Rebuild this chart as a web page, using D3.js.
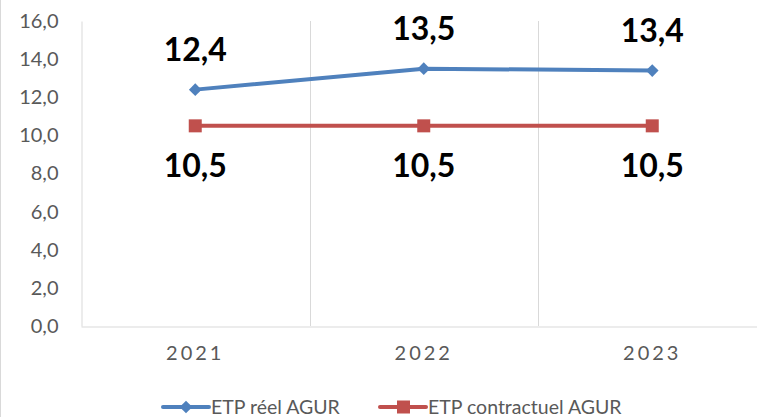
<!doctype html>
<html>
<head>
  <meta charset="utf-8">
  <title>ETP AGUR</title>
  <style>
  body { margin: 0; background: #fff; }
  #vis { width: 757px; height: 417px; }
  </style>
</head>
<body>
  <div id="vis"></div>
  <script src="https://d3js.org/d3.v7.min.js"></script>
  <script>
  var years = ['2021', '2022', '2023'];
  var reel = [12.4, 13.5, 13.4];
  var contractuel = [10.5, 10.5, 10.5];
  var yTicks = [0, 2, 4, 6, 8, 10, 12, 14, 16];
  var seriesNames = ['ETP réel AGUR', 'ETP contractuel AGUR'];

  var width = 757, height = 417;
  var plotLeft = 81, plotTop = 21, plotBottom = 326;
  var band = 228.5;

  var svg = d3.select('#vis').append('svg')
    .attr('width', width).attr('height', height)
    .style('font-family', 'Lato, "Open Sans", sans-serif');

  var x = d3.scaleBand().domain(years).range([plotLeft, plotLeft + band * years.length]);
  var y = d3.scaleLinear().domain([0, 16]).range([plotBottom, plotTop]);
  var fmt = function(v){ return d3.format('.1f')(v).replace('.', ','); };

  // chart border on the left edge
  svg.append('line').attr('x1', 0.5).attr('x2', 0.5).attr('y1', 0).attr('y2', height)
    .attr('stroke', '#d9d9d9');

  // vertical gridlines between categories
  svg.selectAll('.grid').data(years.slice(1)).enter().append('line')
    .attr('x1', function(d){ return Math.round(x(d)) + 0.5; })
    .attr('x2', function(d){ return Math.round(x(d)) + 0.5; })
    .attr('y1', plotTop).attr('y2', plotBottom)
    .attr('stroke', '#d9d9d9').attr('stroke-width', 1);

  // y axis
  var yAxis = svg.append('g').attr('transform', 'translate(' + (plotLeft + 0.5) + ',0)')
    .call(d3.axisLeft(y).tickValues(yTicks).tickFormat(fmt).tickSize(0).tickPadding(23));
  yAxis.select('.domain').attr('stroke', '#d9d9d9');
  yAxis.selectAll('text').attr('fill', '#595959').style('font-size', '20px')
    .style('font-family', 'Lato, "Open Sans", sans-serif');

  // x axis
  var xAxis = svg.append('g').attr('transform', 'translate(0,' + (plotBottom + 0.5) + ')')
    .call(d3.axisBottom(x).tickSize(0).tickPadding(19));
  xAxis.select('.domain').attr('stroke', '#d9d9d9');
  xAxis.selectAll('text').attr('fill', '#595959').style('font-size', '20px')
    .style('letter-spacing', '3px')
    .style('font-family', 'Lato, "Open Sans", sans-serif');

  var cx = function(i){ return x(years[i]) + x.bandwidth() / 2; };

  var line = d3.line().x(function(d, i){ return cx(i); }).y(function(d){ return y(d); });

  var blue = '#4f81bd', red = '#c0504d';

  svg.append('path').datum(reel).attr('d', line)
    .attr('fill', 'none').attr('stroke', blue).attr('stroke-width', 4).attr('stroke-linejoin', 'round');
  svg.append('path').datum(contractuel).attr('d', line)
    .attr('fill', 'none').attr('stroke', red).attr('stroke-width', 4);

  var diamond = d3.symbol().type(d3.symbolSquare).size(80);
  svg.selectAll('.m1').data(reel).enter().append('path')
    .attr('d', diamond())
    .attr('transform', function(d, i){ return 'translate(' + cx(i) + ',' + y(d) + ') rotate(45)'; })
    .attr('fill', blue);
  svg.selectAll('.m2').data(contractuel).enter().append('rect')
    .attr('x', function(d, i){ return cx(i) - 6.5; })
    .attr('y', function(d){ return y(d) - 6.5; })
    .attr('width', 13).attr('height', 13)
    .attr('fill', red);

  // data labels
  svg.selectAll('.l1').data(reel).enter().append('text')
    .attr('x', function(d, i){ return cx(i); })
    .attr('y', function(d){ return y(d) - 29; })
    .attr('text-anchor', 'middle')
    .style('font-size', '32px').style('font-weight', 'bold').attr('fill', '#000')
    .text(fmt);
  svg.selectAll('.l2').data(contractuel).enter().append('text')
    .attr('x', function(d, i){ return cx(i); })
    .attr('y', function(d){ return y(d) + 51; })
    .attr('text-anchor', 'middle')
    .style('font-size', '32px').style('font-weight', 'bold').attr('fill', '#000')
    .text(fmt);

  // legend
  var legend = svg.append('g').attr('transform', 'translate(0,407)');
  var items = [
    { name: seriesNames[0], color: blue, x: 163, type: 'diamond' },
    { name: seriesNames[1], color: red, x: 380, type: 'square' }
  ];
  items.forEach(function(it){
    legend.append('line').attr('x1', it.x).attr('x2', it.x + 46).attr('y1', 0).attr('y2', 0)
      .attr('stroke', it.color).attr('stroke-width', 4).attr('stroke-linecap', 'round');
    if(it.type === 'diamond'){
      legend.append('path').attr('d', diamond())
        .attr('transform', 'translate(' + (it.x + 23) + ',0) rotate(45)').attr('fill', it.color);
    } else {
      legend.append('rect').attr('x', it.x + 17).attr('y', -6.5).attr('width', 13).attr('height', 13)
        .attr('fill', it.color);
    }
    legend.append('text').attr('x', it.x + 48).attr('y', 7)
      .attr('fill', '#595959').style('font-size', '19.5px')
      .text(it.name);
  });
  </script>
</body>
</html>
